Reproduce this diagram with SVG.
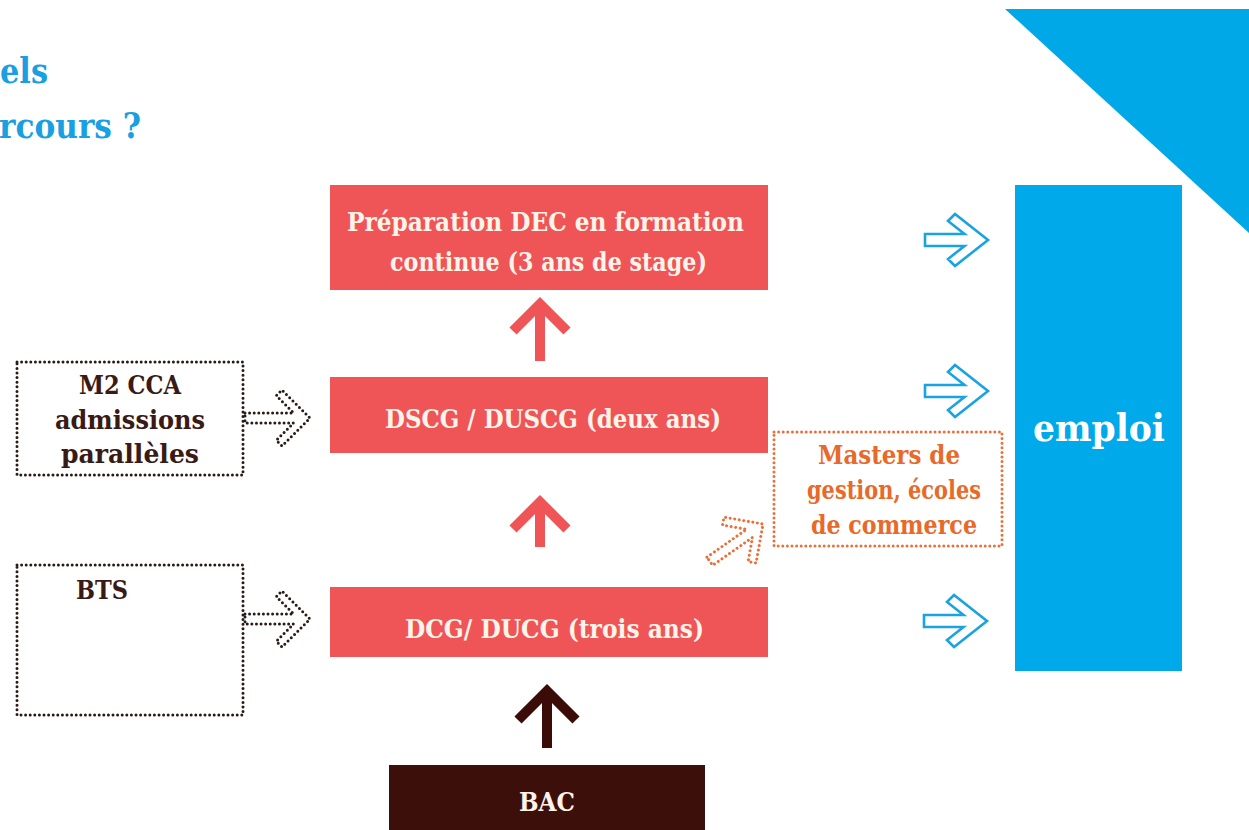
<svg xmlns="http://www.w3.org/2000/svg" width="1249" height="830" viewBox="0 0 1249 830">
<defs>
<style>
.slab{font-family:"DejaVu Serif","Liberation Serif",serif;font-weight:bold}
.red{fill:#ef5457}
.wt{fill:#fff4ea;font-size:26px}
.dk{fill:#3a1a14;font-size:26px}
.or{fill:#e86a2a;font-size:26px}
.dotb{fill:none;stroke:#2a1a16;stroke-width:3;stroke-dasharray:0 4.6;stroke-linecap:round}
.doto{fill:none;stroke:#e8713a;stroke-width:3;stroke-dasharray:0 4.6;stroke-linecap:round}
.bluearr{fill:#fff;stroke:#1aa3e0;stroke-width:2.6;stroke-linejoin:miter}
.uparr{fill:none;stroke-width:10;stroke-linecap:butt;stroke-linejoin:miter}
</style>
<polygon id="hollow" points="-63,-6 -23.5,-6 -40,-19 -33,-26 0,0 -33,26 -40,19 -23.5,6 -63,6"/>
<polygon id="dotarr" points="-65,-5 -16.4,-5 -33.7,-22.3 -28,-28 0,0 -28,28 -33.7,22.3 -16.4,5 -65,5"/>
</defs>
<rect width="1249" height="830" fill="#fff"/>

<g id="title" class="slab" fill="#1a9fe0" font-size="36">
<text x="0" y="83" textLength="48" lengthAdjust="spacingAndGlyphs">els</text>
<text x="-1" y="138" textLength="142" lengthAdjust="spacingAndGlyphs">rcours ?</text>
</g>

<polygon id="corner" points="1005,9 1249,9 1249,233" fill="#00a8e8"/>

<g id="dec">
<rect x="330" y="185" width="438" height="105" class="red"/>
<text class="slab wt" x="545.5" y="231" text-anchor="middle" textLength="397" lengthAdjust="spacingAndGlyphs">Préparation DEC en formation</text>
<text class="slab wt" x="548.5" y="271" text-anchor="middle" textLength="317" lengthAdjust="spacingAndGlyphs">continue (3 ans de stage)</text>
</g>

<g id="dscg">
<rect x="330" y="377" width="438" height="76" class="red"/>
<text class="slab wt" x="553" y="428" text-anchor="middle" textLength="336" lengthAdjust="spacingAndGlyphs">DSCG / DUSCG (deux ans)</text>
</g>

<g id="dcg">
<rect x="330" y="587" width="438" height="70" class="red"/>
<text class="slab wt" x="554.5" y="638" text-anchor="middle" textLength="299" lengthAdjust="spacingAndGlyphs">DCG/ DUCG (trois ans)</text>
</g>

<g id="bac">
<rect x="389" y="765" width="316" height="65" fill="#3d0f0a"/>
<text class="slab wt" x="547" y="811" text-anchor="middle" textLength="56" lengthAdjust="spacingAndGlyphs">BAC</text>
</g>

<g id="m2cca">
<rect x="17" y="362" width="226" height="113" class="dotb"/>
<text class="slab dk" x="130" y="394" text-anchor="middle" textLength="102" lengthAdjust="spacingAndGlyphs">M2 CCA</text>
<text class="slab dk" x="130" y="429" text-anchor="middle" textLength="150" lengthAdjust="spacingAndGlyphs">admissions</text>
<text class="slab dk" x="130" y="463" text-anchor="middle" textLength="138" lengthAdjust="spacingAndGlyphs">parallèles</text>
</g>

<g id="bts">
<rect x="17" y="565" width="226" height="150" class="dotb"/>
<text class="slab dk" x="102" y="599" text-anchor="middle" textLength="52" lengthAdjust="spacingAndGlyphs">BTS</text>
</g>

<g id="masters">
<rect x="774" y="432" width="228" height="114" class="doto"/>
<text class="slab or" x="889" y="464" text-anchor="middle" textLength="142" lengthAdjust="spacingAndGlyphs">Masters de</text>
<text class="slab or" x="894" y="499" text-anchor="middle" textLength="174" lengthAdjust="spacingAndGlyphs">gestion, écoles</text>
<text class="slab or" x="894" y="534" text-anchor="middle" textLength="166" lengthAdjust="spacingAndGlyphs">de commerce</text>
</g>

<g id="emploi">
<rect x="1015" y="185" width="167" height="486" fill="#00a9ea"/>
<text class="slab" fill="#fff" font-size="38" x="1099" y="441" text-anchor="middle" textLength="132" lengthAdjust="spacingAndGlyphs">emploi</text>
</g>

<g id="connectors">
<path class="uparr" stroke="#ef5457" d="M540,361 V304 M513,331 L540,304 L567,331"/>
<path class="uparr" stroke="#ef5457" d="M540,547 V502 M513,529 L540,502 L567,529"/>
<path class="uparr" stroke="#3b0c07" d="M547,748 V693 M518,720 L547,691 L576,720"/>
<use href="#dotarr" class="dotb" transform="translate(310,418)"/>
<use href="#dotarr" class="dotb" transform="translate(310,619)"/>
<use href="#dotarr" class="doto" transform="translate(763,524) rotate(-35)"/>
<use href="#hollow" class="bluearr" transform="translate(988,240)"/>
<use href="#hollow" class="bluearr" transform="translate(988,391)"/>
<use href="#hollow" class="bluearr" transform="translate(987,621)"/>
</g>
</svg>
